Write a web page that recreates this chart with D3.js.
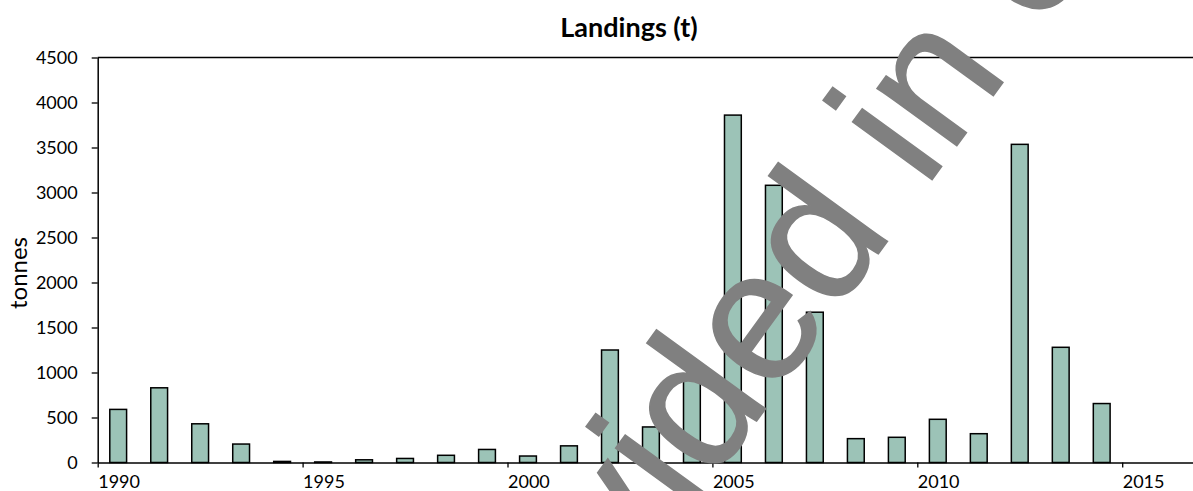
<!DOCTYPE html>
<html>
<head>
<meta charset="utf-8">
<script src="https://cdn.jsdelivr.net/npm/d3@7/dist/d3.min.js"></script>
<style>
  html, body { margin: 0; padding: 0; background: #fff; }
  svg { display: block; }
  text { font-family: Lato, "Open Sans", sans-serif; fill: #000; }
</style>
</head>
<body>
<svg id="chart" width="1193" height="491"></svg>
<script>
const years = [1990,1991,1992,1993,1994,1995,1996,1997,1998,1999,2000,2001,2002,2003,2004,2005,2006,2007,2008,2009,2010,2011,2012,2013,2014];
const landings = [590,830,430,205,12,6,30,45,80,145,72,185,1250,395,980,3860,3080,1670,265,280,480,320,3535,1280,655];
const xTickLabels = [1990,1995,2000,2005,2010,2015];
const yTickLabels = [0,500,1000,1500,2000,2500,3000,3500,4000,4500];
const titleText = "Landings (t)";
const yAxisTitle = "tonnes";
const watermarkText = "Provided in error";

const svg = d3.select("#chart");
const W = 1193, H = 491;
const plotLeft = 97.7, plotTop = 57.5, plotBottom = 462.5;

const x = d3.scaleLinear().domain([1990, 2017]).range([plotLeft, plotLeft + 27 * 40.98]);
const y = d3.scaleLinear().domain([0, 4500]).range([plotBottom, plotTop]);

const barW = 0.41;

// bars
svg.append("g").selectAll("rect").data(years).join("rect")
  .attr("x", (d) => x(d + 0.5 - barW / 2))
  .attr("width", x(1990 + barW) - x(1990))
  .attr("y", (d, i) => y(landings[i]))
  .attr("height", (d, i) => y(0) - y(landings[i]))
  .attr("fill", "#9cc3b7")
  .attr("stroke", "#000")
  .attr("stroke-width", 1.5);

// top border
svg.append("line")
  .attr("x1", plotLeft).attr("x2", W + 20)
  .attr("y1", y(4500)).attr("y2", y(4500))
  .attr("stroke", "#000").attr("stroke-width", 1.3);

// y axis
const yAxis = svg.append("g")
  .attr("transform", `translate(${plotLeft},0)`)
  .call(d3.axisLeft(y).tickValues(yTickLabels).tickFormat(d3.format("d")).tickSize(6).tickSizeOuter(0).tickPadding(14));
yAxis.select(".domain").attr("stroke", "#000").attr("stroke-width", 1.5);
yAxis.selectAll(".tick line").attr("stroke", "#000").attr("stroke-width", 1.3);
yAxis.selectAll(".tick text")
  .attr("font-family", "Lato, sans-serif")
  .attr("font-size", 18)
  .attr("dy", "0.36em")
  .attr("fill", "#000");

// x axis
const xAxis = svg.append("g")
  .attr("transform", `translate(0,${plotBottom})`)
  .call(d3.axisBottom(x).tickValues(xTickLabels).tickFormat(d3.format("d")).tickSize(5).tickSizeOuter(0));
xAxis.select(".domain").attr("stroke", "#000").attr("stroke-width", 1.5);
xAxis.selectAll(".tick line").attr("stroke", "#000").attr("stroke-width", 1.3);
xAxis.selectAll(".tick text")
  .attr("font-family", "Lato, sans-serif")
  .attr("font-size", 18)
  .attr("text-anchor", "start")
  .attr("x", 0)
  .attr("y", 25.5)
  .attr("dy", 0)
  .attr("fill", "#000");

// title
svg.append("text")
  .attr("x", 629).attr("y", 37)
  .attr("text-anchor", "middle")
  .attr("font-size", 27)
  .attr("font-weight", "bold")
  .text(titleText);

// y axis title
svg.append("text")
  .attr("transform", "translate(27,273) rotate(-90)")
  .attr("text-anchor", "middle")
  .attr("font-size", 24)
  .text(yAxisTitle);

// watermark (partially visible, cut by the picture's edges as in the reference)
const wmG = svg.append("g").attr("transform", "translate(937,173) rotate(-54)");
const wm = wmG.append("text")
  .attr("font-size", 186)
  .style("font-family", "'Liberation Sans', Arial, sans-serif")
  .style("fill", "#808080")
  .style("stroke", "#808080")
  .style("stroke-width", 1.5)
  .attr("x", 0).attr("y", 0)
  .text(watermarkText);
const node = wm.node();
const iIdx = watermarkText.indexOf(" in") + 1;
const s0 = node.getStartPositionOfChar(iIdx).x;
const e0 = node.getEndPositionOfChar(iIdx).x;
wm.attr("x", -(s0 + e0) / 2);
</script>
</body>
</html>
